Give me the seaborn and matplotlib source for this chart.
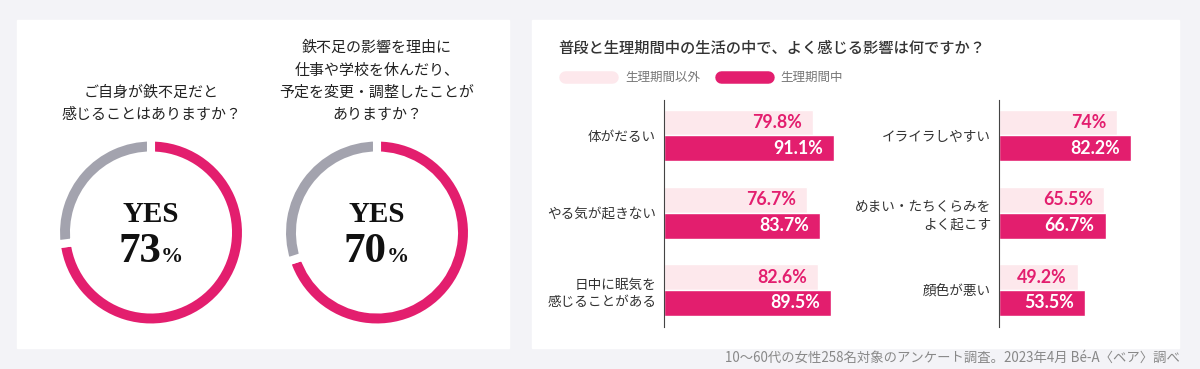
import matplotlib
matplotlib.use("Agg")
import matplotlib.pyplot as plt
import seaborn as sns
import pandas as pd
from matplotlib.patches import Rectangle

# --- data ---
donut_questions = [
    "ご自身が鉄不足だと\n感じることはありますか？",
    "鉄不足の影響を理由に\n仕事や学校を休んだり、\n予定を変更・調整したことが\nありますか？",
]
donut_yes = [73, 70]

bar_title = "普段と生理期間中の生活の中で、よく感じる影響は何ですか？"
periods = ["生理期間以外", "生理期間中"]

left_items = ["体がだるい", "やる気が起きない", "日中に眠気を\n感じることがある"]
left_normal = [79.8, 76.7, 82.6]
left_period = [91.1, 83.7, 89.5]

right_items = ["イライラしやすい", "めまい・たちくらみを\nよく起こす", "顔色が悪い"]
right_normal = [74, 65.5, 49.2]
right_period = [82.2, 66.7, 53.5]

footnote = "10〜60代の女性258名対象のアンケート調査。2023年4月 Bé-A〈ベア〉調べ"

PINK = "#e31e6e"
LIGHT = "#fde8ec"
GREY = "#a3a3ae"
BG = "#f3f3f7"
TXT = "#333333"

sns.set_style("white")
plt.rcParams["font.family"] = ["Noto Sans CJK JP", "DejaVu Sans"]

W, H = 1200, 369
fig = plt.figure(figsize=(W / 100, H / 100), dpi=100, facecolor=BG)


def px_axes(x, y, w, h):
    # box given in pixels from the top-left corner
    ax = fig.add_axes([x / W, 1 - (y + h) / H, w / W, h / H])
    ax.set_facecolor("none")
    return ax


# background panels, titles, legend, footnote drawn in pixel space
bg = px_axes(0, 0, W, H)
bg.set_xlim(0, W)
bg.set_ylim(H, 0)
bg.axis("off")
bg.add_patch(Rectangle((17, 20), 492, 328, color="white"))
bg.add_patch(Rectangle((532, 20), 647, 328, color="white"))

# --- donuts ---
for cx, q, yes in zip([151, 377], donut_questions, donut_yes):
    for j, line in enumerate(q.split("\n")[::-1]):
        bg.text(cx, 115 - j * 22.3, line, ha="center", va="center",
                fontsize=10.8, color="#222222")
    ax = px_axes(cx - 100, 132.5, 200, 200)
    ax.pie([yes, 100 - yes], colors=[PINK, GREY], startangle=90,
           counterclock=False, radius=0.95,
           wedgeprops=dict(width=0.18, edgecolor="white", linewidth=5.8))
    ax.set_xlim(-1, 1)
    ax.set_ylim(-1, 1)
    serif = dict(family="Liberation Serif", weight="bold", color="#111111")
    ax.text(0, 0.10, "YES", ha="center", va="baseline", fontsize=21, **serif)
    ax.text(0.10, -0.30, str(yes), ha="right", va="baseline", fontsize=31, **serif)
    ax.text(0.095, -0.30, "%", ha="left", va="baseline", fontsize=16, **serif)


# --- bar panels ---
def bar_panel(x0, width, scale, items, normal, period):
    df = pd.DataFrame({
        "item": items + items,
        "period": [periods[0]] * len(items) + [periods[1]] * len(items),
        "value": normal + period,
    })
    ax = px_axes(x0, 100, width, 227)
    sns.barplot(data=df, x="value", y="item", hue="period", hue_order=periods,
                palette=[LIGHT, PINK], saturation=1, width=0.67, orient="h",
                legend=False, ax=ax)
    ax.set_xlim(0, width / scale)
    ax.set_ylim(2.478, -0.458)
    sns.despine(ax=ax, top=True, right=True, bottom=True)
    ax.spines["left"].set_color("#444444")
    ax.spines["left"].set_linewidth(0.8)
    ax.set_xticks([])
    ax.set_xlabel("")
    ax.set_ylabel("")
    ax.tick_params(axis="y", length=0, pad=5.8, labelsize=9.8, labelcolor=TXT)
    for lbl in ax.get_yticklabels():
        lbl.set_linespacing(1.3)
        lbl.set_multialignment("right")
    for cont, col in zip(ax.containers, [PINK, "white"]):
        for p in cont:
            v = p.get_width()
            ax.annotate(f"{v:g}%", (v, p.get_y() + p.get_height() / 2),
                        xytext=(-8, 0), textcoords="offset points",
                        ha="right", va="center", color=col,
                        family="Lato", weight="bold", fontsize=12.8)
    return ax


bar_panel(664.3, 200, 1.86, left_items, left_normal, left_period)
bar_panel(999, 180, 1.60, right_items, right_normal, right_period)

bg.text(558, 48, bar_title, ha="left", va="center", fontsize=11,
        color=TXT, weight="medium")
bg.plot([565, 612], [77, 77], lw=9, color=LIGHT, solid_capstyle="round")
bg.text(625, 77, periods[0], ha="left", va="center", fontsize=9, color="#777777")
bg.plot([720.5, 767.5], [77, 77], lw=9, color=PINK, solid_capstyle="round")
bg.text(780, 77, periods[1], ha="left", va="center", fontsize=9, color="#777777")

bg.text(1180, 358, footnote, ha="right", va="center", fontsize=9.6, color="#888888")

fig.savefig("out.png", dpi=100, facecolor=BG)
